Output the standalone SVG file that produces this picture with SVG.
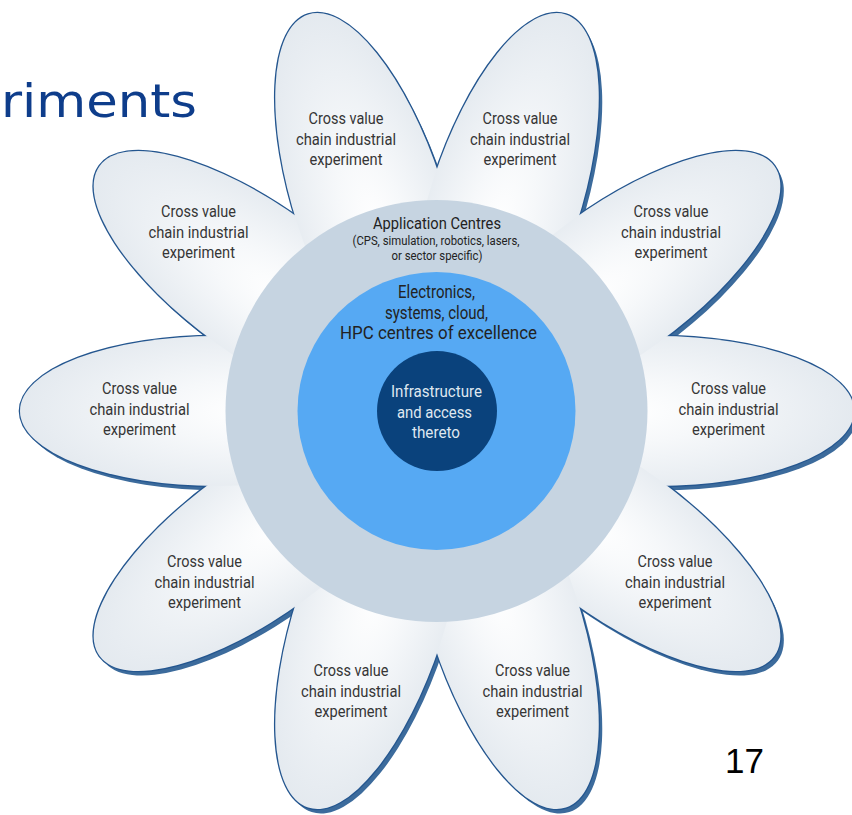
<svg xmlns="http://www.w3.org/2000/svg" xmlns:xlink="http://www.w3.org/1999/xlink" width="852" height="815" viewBox="0 0 852 815">
<defs>
<radialGradient id="petalFill" cx="0.42" cy="0.5" r="0.62">
<stop offset="0" stop-color="#ffffff"/>
<stop offset="0.35" stop-color="#f6f8fa"/>
<stop offset="1" stop-color="#e2e8ee"/>
</radialGradient>
<ellipse id="petal" cx="657" cy="411" rx="197" ry="75"/>
</defs>
<style>
.shadow{fill:#3c6b9c}
.outline{fill:none;stroke:#24568f;stroke-width:2.6}
.pfill{fill:url(#petalFill)}
.pl{font-family:Roboto,"Liberation Sans",sans-serif;font-size:16.5px;fill:#363636;text-anchor:middle}
.ct{font-family:Roboto,"Liberation Sans",sans-serif;fill:#222222;text-anchor:middle}
.it{font-family:Roboto,"Liberation Sans",sans-serif;fill:#dfe7f0;text-anchor:middle;font-size:16.5px}
</style>
<rect width="852" height="815" fill="#ffffff"/>
<text x="1" y="117" font-family="'DejaVu Sans',Verdana,sans-serif" font-size="46" fill="#0e3d8b" textLength="196" lengthAdjust="spacingAndGlyphs">riments</text>
<g id="petal-shadows">
<use xlink:href="#petal" class="shadow" transform="translate(3.5,4.5) rotate(0 437 411)"/>
<use xlink:href="#petal" class="shadow" transform="translate(3.5,4.5) rotate(36 437 411)"/>
<use xlink:href="#petal" class="shadow" transform="translate(3.5,4.5) rotate(72 437 411)"/>
<use xlink:href="#petal" class="shadow" transform="translate(3.5,4.5) rotate(108 437 411)"/>
<use xlink:href="#petal" class="shadow" transform="translate(3.5,4.5) rotate(144 437 411)"/>
<use xlink:href="#petal" class="shadow" transform="translate(3.5,4.5) rotate(180 437 411)"/>
<use xlink:href="#petal" class="shadow" transform="translate(3.5,4.5) rotate(216 437 411)"/>
<use xlink:href="#petal" class="shadow" transform="translate(3.5,4.5) rotate(252 437 411)"/>
<use xlink:href="#petal" class="shadow" transform="translate(3.5,4.5) rotate(288 437 411)"/>
<use xlink:href="#petal" class="shadow" transform="translate(3.5,4.5) rotate(324 437 411)"/>
</g>
<g id="petal-outlines">
<use xlink:href="#petal" class="outline" transform="rotate(0 437 411)"/>
<use xlink:href="#petal" class="outline" transform="rotate(36 437 411)"/>
<use xlink:href="#petal" class="outline" transform="rotate(72 437 411)"/>
<use xlink:href="#petal" class="outline" transform="rotate(108 437 411)"/>
<use xlink:href="#petal" class="outline" transform="rotate(144 437 411)"/>
<use xlink:href="#petal" class="outline" transform="rotate(180 437 411)"/>
<use xlink:href="#petal" class="outline" transform="rotate(216 437 411)"/>
<use xlink:href="#petal" class="outline" transform="rotate(252 437 411)"/>
<use xlink:href="#petal" class="outline" transform="rotate(288 437 411)"/>
<use xlink:href="#petal" class="outline" transform="rotate(324 437 411)"/>
</g>
<g id="petal-right">
<use xlink:href="#petal" class="pfill" transform="rotate(0 437 411)"/>
<text class="pl"><tspan x="728.5" y="394" textLength="75" lengthAdjust="spacingAndGlyphs">Cross value</tspan><tspan x="728.5" y="414.5" textLength="100" lengthAdjust="spacingAndGlyphs">chain industrial</tspan><tspan x="728.5" y="435" textLength="73" lengthAdjust="spacingAndGlyphs">experiment</tspan></text>
</g>
<g id="petal-lower-right">
<use xlink:href="#petal" class="pfill" transform="rotate(36 437 411)"/>
<text class="pl"><tspan x="675" y="567" textLength="75" lengthAdjust="spacingAndGlyphs">Cross value</tspan><tspan x="675" y="587.5" textLength="100" lengthAdjust="spacingAndGlyphs">chain industrial</tspan><tspan x="675" y="608" textLength="73" lengthAdjust="spacingAndGlyphs">experiment</tspan></text>
</g>
<g id="petal-bottom-right">
<use xlink:href="#petal" class="pfill" transform="rotate(72 437 411)"/>
<text class="pl"><tspan x="532.5" y="676" textLength="75" lengthAdjust="spacingAndGlyphs">Cross value</tspan><tspan x="532.5" y="696.5" textLength="100" lengthAdjust="spacingAndGlyphs">chain industrial</tspan><tspan x="532.5" y="717" textLength="73" lengthAdjust="spacingAndGlyphs">experiment</tspan></text>
</g>
<g id="petal-bottom-left">
<use xlink:href="#petal" class="pfill" transform="rotate(108 437 411)"/>
<text class="pl"><tspan x="351" y="676" textLength="75" lengthAdjust="spacingAndGlyphs">Cross value</tspan><tspan x="351" y="696.5" textLength="100" lengthAdjust="spacingAndGlyphs">chain industrial</tspan><tspan x="351" y="717" textLength="73" lengthAdjust="spacingAndGlyphs">experiment</tspan></text>
</g>
<g id="petal-lower-left">
<use xlink:href="#petal" class="pfill" transform="rotate(144 437 411)"/>
<text class="pl"><tspan x="204.5" y="567" textLength="75" lengthAdjust="spacingAndGlyphs">Cross value</tspan><tspan x="204.5" y="587.5" textLength="100" lengthAdjust="spacingAndGlyphs">chain industrial</tspan><tspan x="204.5" y="608" textLength="73" lengthAdjust="spacingAndGlyphs">experiment</tspan></text>
</g>
<g id="petal-left">
<use xlink:href="#petal" class="pfill" transform="rotate(180 437 411)"/>
<text class="pl"><tspan x="139.5" y="394" textLength="75" lengthAdjust="spacingAndGlyphs">Cross value</tspan><tspan x="139.5" y="414.5" textLength="100" lengthAdjust="spacingAndGlyphs">chain industrial</tspan><tspan x="139.5" y="435" textLength="73" lengthAdjust="spacingAndGlyphs">experiment</tspan></text>
</g>
<g id="petal-upper-left">
<use xlink:href="#petal" class="pfill" transform="rotate(216 437 411)"/>
<text class="pl"><tspan x="198.5" y="217" textLength="75" lengthAdjust="spacingAndGlyphs">Cross value</tspan><tspan x="198.5" y="237.5" textLength="100" lengthAdjust="spacingAndGlyphs">chain industrial</tspan><tspan x="198.5" y="258" textLength="73" lengthAdjust="spacingAndGlyphs">experiment</tspan></text>
</g>
<g id="petal-top-left">
<use xlink:href="#petal" class="pfill" transform="rotate(252 437 411)"/>
<text class="pl"><tspan x="346" y="124" textLength="75" lengthAdjust="spacingAndGlyphs">Cross value</tspan><tspan x="346" y="144.5" textLength="100" lengthAdjust="spacingAndGlyphs">chain industrial</tspan><tspan x="346" y="165" textLength="73" lengthAdjust="spacingAndGlyphs">experiment</tspan></text>
</g>
<g id="petal-top-right">
<use xlink:href="#petal" class="pfill" transform="rotate(288 437 411)"/>
<text class="pl"><tspan x="520" y="124" textLength="75" lengthAdjust="spacingAndGlyphs">Cross value</tspan><tspan x="520" y="144.5" textLength="100" lengthAdjust="spacingAndGlyphs">chain industrial</tspan><tspan x="520" y="165" textLength="73" lengthAdjust="spacingAndGlyphs">experiment</tspan></text>
</g>
<g id="petal-upper-right">
<use xlink:href="#petal" class="pfill" transform="rotate(324 437 411)"/>
<text class="pl"><tspan x="671" y="217" textLength="75" lengthAdjust="spacingAndGlyphs">Cross value</tspan><tspan x="671" y="237.5" textLength="100" lengthAdjust="spacingAndGlyphs">chain industrial</tspan><tspan x="671" y="258" textLength="73" lengthAdjust="spacingAndGlyphs">experiment</tspan></text>
</g>
<g id="ring-application-centres">
<circle cx="436.5" cy="411" r="211" fill="#c6d4e1"/>
<text class="ct" font-size="16.5"><tspan x="437" y="229" textLength="128" lengthAdjust="spacingAndGlyphs">Application Centres</tspan></text>
<text class="ct" font-size="12"><tspan x="436" y="245" textLength="167" lengthAdjust="spacingAndGlyphs">(CPS, simulation, robotics, lasers,</tspan><tspan x="437" y="260" textLength="91" lengthAdjust="spacingAndGlyphs">or sector specific)</tspan></text>
</g>
<g id="ring-electronics">
<circle cx="436.5" cy="411" r="139" fill="#56a9f3"/>
<text class="ct" font-size="17.5"><tspan x="436.5" y="298" textLength="77" lengthAdjust="spacingAndGlyphs">Electronics,</tspan><tspan x="436.5" y="318.5" textLength="103" lengthAdjust="spacingAndGlyphs">systems, cloud,</tspan><tspan x="438.5" y="339" textLength="197" lengthAdjust="spacingAndGlyphs">HPC centres of excellence</tspan></text>
</g>
<g id="core-infrastructure">
<circle cx="437" cy="411" r="60" fill="#0a427c"/>
<text class="it"><tspan x="436.5" y="397" textLength="91" lengthAdjust="spacingAndGlyphs">Infrastructure</tspan><tspan x="434.5" y="418" textLength="75" lengthAdjust="spacingAndGlyphs">and access</tspan><tspan x="436" y="438" textLength="48" lengthAdjust="spacingAndGlyphs">thereto</tspan></text>
</g>
<g id="connectors"/>
<text x="725" y="773" font-family="'Liberation Sans',Arial,sans-serif" font-size="35" fill="#000000">17</text>
</svg>
